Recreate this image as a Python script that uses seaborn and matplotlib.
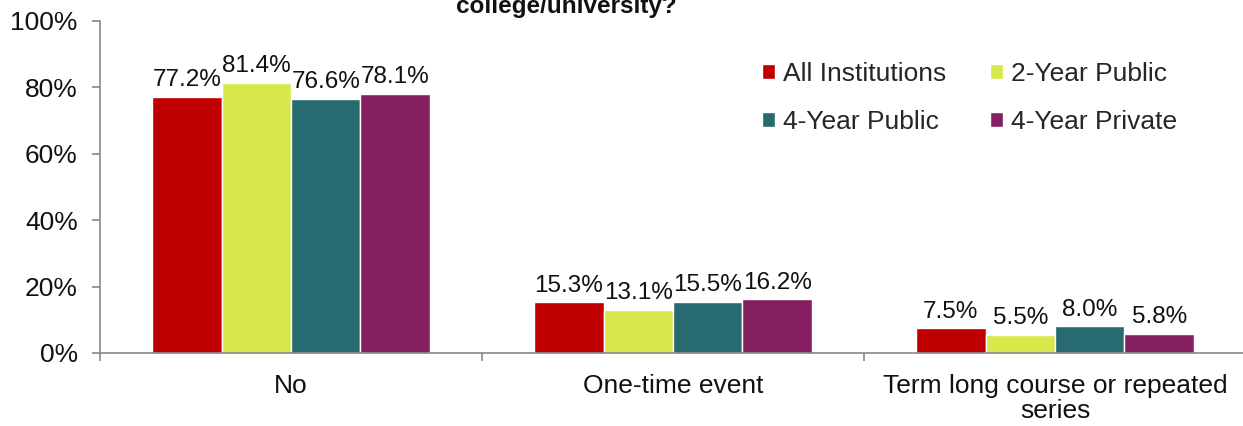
import matplotlib
matplotlib.use("Agg")
import matplotlib.pyplot as plt
import seaborn as sns
import pandas as pd
from matplotlib.ticker import PercentFormatter, FixedLocator

categories = ["No", "One-time event", "Term long course or repeated\nseries"]
series = ["All Institutions", "2-Year Public", "4-Year Public", "4-Year Private"]
all_inst = [77.2, 15.3, 7.5]
two_pub = [81.4, 13.1, 5.5]
four_pub = [76.6, 15.5, 8.0]
four_priv = [78.1, 16.2, 5.8]
colors = ["#C00000", "#D6E84A", "#276A70", "#861F5F"]
title_line = "college/university?"

values = {series[0]: all_inst, series[1]: two_pub, series[2]: four_pub, series[3]: four_priv}
rows = []
for s in series:
    for c, v in zip(categories, values[s]):
        rows.append({"Category": c, "Series": s, "Value": v})
df = pd.DataFrame(rows)

sns.set_theme(style="white")
plt.rcParams["font.family"] = ["Liberation Sans", "DejaVu Sans"]
fs = 19
fs_lab = 17.5

fig = plt.figure(figsize=(12.43, 4.26), dpi=100)
ax = fig.add_axes([100 / 1243, 73 / 426, 1146 / 1243, 332 / 426])

sns.barplot(data=df, x="Category", y="Value", hue="Series", order=categories,
            hue_order=series, palette=colors, width=0.727, saturation=1,
            ax=ax, legend=True)

for cont in ax.containers:
    ax.bar_label(cont, labels=[f"{b.get_height():.1f}%" for b in cont],
                 padding=4, fontsize=fs_lab, color="#111111")

ax.set_ylim(0, 100)
ax.set_xlim(-0.5, 2.5)
ax.yaxis.set_major_formatter(PercentFormatter(100, decimals=0))
ax.set_yticks([0, 20, 40, 60, 80, 100])
ax.set_xlabel("")
ax.set_ylabel("")
for sp in ["top", "right"]:
    ax.spines[sp].set_visible(False)
for sp in ["left", "bottom"]:
    ax.spines[sp].set_color("#888888")
    ax.spines[sp].set_linewidth(1.2)
ax.tick_params(axis="y", which="major", left=True, length=6, width=1.2, color="#888888",
               labelsize=fs, labelcolor="#111111", pad=10)
ax.tick_params(axis="x", which="major", bottom=False, labelsize=fs, labelcolor="#111111", pad=9)
ax.xaxis.set_minor_locator(FixedLocator([-0.5, 0.5, 1.5, 2.5]))
ax.tick_params(axis="x", which="minor", bottom=True, length=6, width=1.2, color="#888888")
for lab in ax.get_xticklabels():
    lab.set_linespacing(1.05)

handles, labels = ax.get_legend_handles_labels()
order = [0, 2, 1, 3]
ax.legend([handles[i] for i in order], [labels[i] for i in order], ncol=2, frameon=False,
          fontsize=fs, loc="upper left", bbox_to_anchor=(749 / 1243, 1 - 49 / 426),
          bbox_transform=fig.transFigure, handlelength=0.5, handleheight=0.5,
          handletextpad=0.3, columnspacing=1.65, labelspacing=0.9, borderpad=0)

fig.text(566 / 1243, 1 - 13 / 426, title_line, ha="center", va="baseline",
         fontsize=17.5, fontweight="bold", color="#111111")

fig.savefig("out.png", dpi=100)
